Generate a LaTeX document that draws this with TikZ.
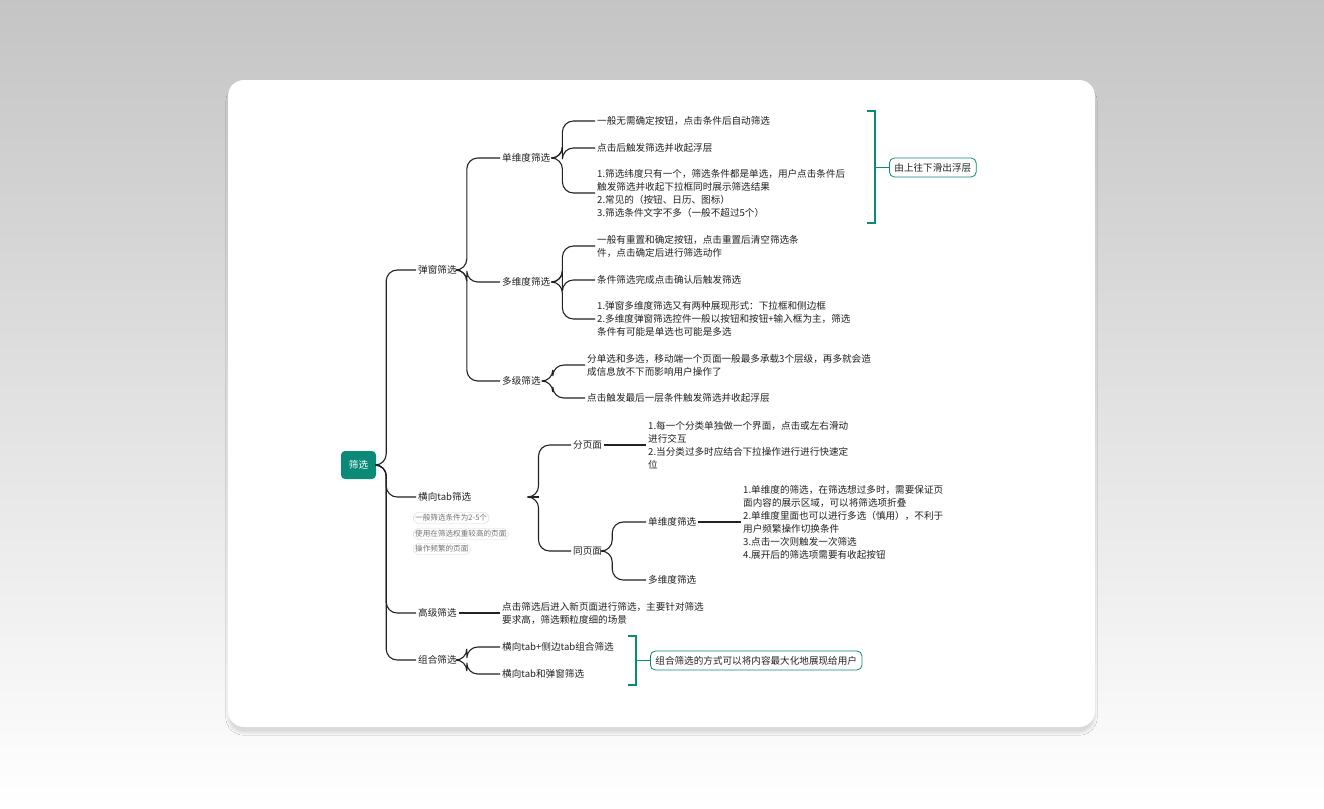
\documentclass[tikz,border=0pt]{standalone}
\usepackage{fontspec}
\setmainfont{Noto Sans CJK SC}
\usepackage{tikz}
\usetikzlibrary{positioning,calc,shadows.blur}
\definecolor{teal1}{HTML}{0B8A78}
\definecolor{ink1}{HTML}{222222}
\definecolor{tagline}{HTML}{D6D6D6}

\begin{document}
\begin{tikzpicture}[
    x=1pt, y=-1pt,
    topic/.style={anchor=west, inner sep=2pt, text=ink1,
                  font=\fontsize{9.6}{13}\selectfont},
    leaf/.style={topic, align=left},
    tag/.style={draw=tagline, rounded corners=6pt, anchor=west, inner sep=2pt,
                text=black!55, font=\fontsize{7.6}{9}\selectfont},
    note/.style={draw=teal1, thick, rounded corners=5pt, inner sep=5pt,
                 text=ink1, font=\fontsize{9.6}{12}\selectfont},
    br/.style={draw=ink1, line width=1.1pt, rounded corners=11pt},
    brace/.style={draw=teal1, line width=1.1pt},
]
\useasboundingbox (0,0) rectangle (1324,808);
\fill[top color=black!23, bottom color=white] (0,0) rectangle (1324,808);
\fill[white, rounded corners=16pt,
      blur shadow={shadow blur steps=8, shadow xshift=0pt, shadow yshift=-6pt, shadow opacity=12}]
      (228,80) rectangle (1095,727);

% root
\node[fill=teal1, rounded corners=4pt, text=white, minimum width=35pt, minimum height=28pt,
      font=\fontsize{9.6}{12}\selectfont] (root) at (358.5,465) {筛选};

% level 1
\node[topic] (pop) at (416,270) {弹窗筛选};
\node[topic] (tab) at (416,497) {横向tab筛选};
\node[topic] (adv) at (416,613) {高级筛选};
\node[topic] (mix) at (416,660) {组合筛选};
\node[tag] (t1) at (413,518) {一般筛选条件为2-5个};
\node[tag] (t2) at (413,534) {使用在筛选权重较高的页面};
\node[tag] (t3) at (413,549) {操作频繁的页面};

% 弹窗筛选
\node[topic] (single) at (500,158) {单维度筛选};
\node[topic] (multi) at (500,282) {多维度筛选};
\node[topic] (level) at (500,381) {多级筛选};
\node[leaf] (s1) at (595,121) {一般无需确定按钮，点击条件后自动筛选};
\node[leaf] (s2) at (595,148) {点击后触发筛选并收起浮层};
\node[leaf] (s3) at (595,193) {1.筛选纬度只有一个，筛选条件都是单选，用户点击条件后\\触发筛选并收起下拉框同时展示筛选结果\\2.常见的（按钮、日历、图标）\\3.筛选条件文字不多（一般不超过5个）};
\node[leaf] (m1) at (595,246) {一般有重置和确定按钮，点击重置后清空筛选条\\件，点击确定后进行筛选动作};
\node[leaf] (m2) at (595,280) {条件筛选完成点击确认后触发筛选};
\node[leaf] (m3) at (595,319) {1.弹窗多维度筛选又有两种展现形式：下拉框和侧边框\\2.多维度弹窗筛选控件一般以按钮和按钮+输入框为主，筛选\\条件有可能是单选也可能是多选};
\node[leaf] (l1) at (585,365) {分单选和多选，移动端一个页面一般最多承载3个层级，再多就会造\\成信息放不下而影响用户操作了};
\node[leaf] (l2) at (585,398) {点击触发最后一层条件触发筛选并收起浮层};

% 横向tab筛选
\node[topic] (split) at (571,445) {分页面};
\node[topic] (same) at (571,551) {同页面};
\node[leaf] (p1) at (646,445) {1.每一个分类单独做一个界面，点击或左右滑动\\进行交互\\2.当分类过多时应结合下拉操作进行进行快速定\\位};
\node[topic] (same1) at (646,522) {单维度筛选};
\node[topic] (same2) at (646,580) {多维度筛选};
\node[leaf] (q1) at (741,522) {1.单维度的筛选，在筛选想过多时，需要保证页\\面内容的展示区域，可以将筛选项折叠\\2.单维度里面也可以进行多选（慎用），不利于\\用户频繁操作切换条件\\3.点击一次则触发一次筛选\\4.展开后的筛选项需要有收起按钮};

% 高级筛选 / 组合筛选
\node[leaf] (a1) at (500,613) {点击筛选后进入新页面进行筛选，主要针对筛选\\要求高，筛选颗粒度细的场景};
\node[topic] (c1) at (500,647) {横向tab+侧边tab组合筛选};
\node[topic] (c2) at (500,674) {横向tab和弹窗筛选};

% notes
\node[note, anchor=west] (n1) at (889,167.5) {由上往下滑出浮层};
\node[note, anchor=west] (n2) at (650,660.5) {组合筛选的方式可以将内容最大化地展现给用户};

% connectors
\foreach \c in {pop,tab,adv,mix}
  \draw[br] (root.east) -- ++(10,0) |- (\c.west);
\foreach \c in {single,multi,level}
  \draw[br] (pop.east) -- ++(8,0) |- (\c.west);
\foreach \c in {s1,s2,s3}
  \draw[br] (single.east) -- ++(10,0) |- (\c.west);
\foreach \c in {m1,m2,m3}
  \draw[br] (multi.east) -- ++(10,0) |- (\c.west);
\foreach \c in {l1,l2}
  \draw[br] (level.east) -- ++(10,0) |- (\c.west);
\foreach \c in {split,same}
  \draw[br] ($(tab.east)+(57,0)$) -- ++(8,0) |- (\c.west);
\draw[br] ($(tab.east)+(55,0)$) -- ++(10,0);
\foreach \c in {same1,same2}
  \draw[br] (same.east) -- ++(8,0) |- (\c.west);
\draw[br] (split.east) -- (p1.west |- split.east);
\draw[br] (same1.east) -- (q1.west);
\draw[br] (adv.east) -- (a1.west);
\foreach \c in {c1,c2}
  \draw[br] (mix.east) -- ++(8,0) |- (\c.west);

% braces
\draw[brace] (867,111) -- (875,111) -- (875,223) -- (867,223);
\draw[brace] (875,167.5) -- (n1.west);
\draw[brace] (628,636) -- (636,636) -- (636,685) -- (628,685);
\draw[brace] (636,660.5) -- (n2.west);
\end{tikzpicture}
\end{document}
